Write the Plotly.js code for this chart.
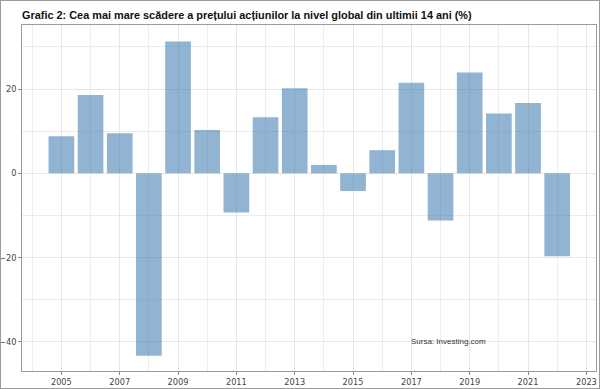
<!DOCTYPE html>
<html>
<head>
<meta charset="utf-8">
<script src="https://cdn.plot.ly/plotly-3.0.1.min.js"></script>
<style>
html,body{margin:0;padding:0;background:#fff;}
#wrap{position:relative;width:600px;height:389px;}
#chart{position:absolute;left:0;top:0;width:600px;height:389px;}
#frame{position:absolute;left:0;top:0;width:600px;height:389px;box-sizing:border-box;border:1.5px solid #9a9a9a;pointer-events:none;}
</style>
</head>
<body>
<div id="wrap"><div id="chart"></div><div id="frame"></div></div>
<script>
const years = [2005,2006,2007,2008,2009,2010,2011,2012,2013,2014,2015,2016,2017,2018,2019,2020,2021,2022];
const changes = [8.8,18.6,9.5,-43.3,31.3,10.3,-9.3,13.3,20.2,2.0,-4.2,5.5,21.5,-11.2,23.9,14.2,16.7,-19.7];
const titleText = "Grafic 2: Cea mai mare scădere a prețului acțiunilor la nivel global din ultimii 14 ani (%)";
const sourceText = "Sursa: Investing.com";

const trace = {
  type: 'bar',
  x: years,
  y: changes,
  marker: {color: 'rgba(70,130,180,0.6)', line: {width: 0}},
  hoverinfo: 'x+y'
};

const tickFont = {family: 'DejaVu Sans, sans-serif', size: 8.2, color: '#444'};

const layout = {
  width: 600, height: 389,
  margin: {l: 22, r: 4, t: 25, b: 18},
  paper_bgcolor: '#fff', plot_bgcolor: '#fff',
  bargap: 0.12,
  showlegend: false,
  title: {
    text: '<b>' + titleText + '</b>',
    font: {family: 'Liberation Sans, Arial, sans-serif', size: 10.9, color: '#111'},
    x: 0, xanchor: 'left', xref: 'paper',
    y: 0.961, yanchor: 'middle', yref: 'container'
  },
  xaxis: {
    range: [2003.65, 2023.33],
    tick0: 2005, dtick: 2,
    ticks: 'outside', ticklen: 3, tickcolor: '#888', tickwidth: 1,
    tickfont: tickFont,
    showgrid: true, gridcolor: '#e6e6e6', gridwidth: 1,
    minor: {dtick: 1, tick0: 2004, showgrid: true, gridcolor: '#ececec', gridwidth: 1, ticks: ''},
    zeroline: false,
    showline: true, linecolor: '#9a9a9a', linewidth: 1, mirror: true,
    fixedrange: true
  },
  yaxis: {
    range: [-46.9, 35.2],
    tick0: 0, dtick: 20,
    ticks: 'outside', ticklen: 3, tickcolor: '#888', tickwidth: 1,
    tickfont: tickFont,
    showgrid: true, gridcolor: '#e6e6e6', gridwidth: 1,
    minor: {dtick: 10, tick0: 0, showgrid: true, gridcolor: '#ececec', gridwidth: 1, ticks: ''},
    zeroline: false,
    showline: true, linecolor: '#9a9a9a', linewidth: 1, mirror: true,
    fixedrange: true
  },
  annotations: [{
    text: sourceText,
    x: 2018.26, y: -40, xref: 'x', yref: 'y',
    showarrow: false,
    font: {family: 'Liberation Sans, Arial, sans-serif', size: 8, color: '#333'}
  }]
};

Plotly.newPlot('chart', [trace], layout, {displayModeBar: false, staticPlot: true});
</script>
</body>
</html>
